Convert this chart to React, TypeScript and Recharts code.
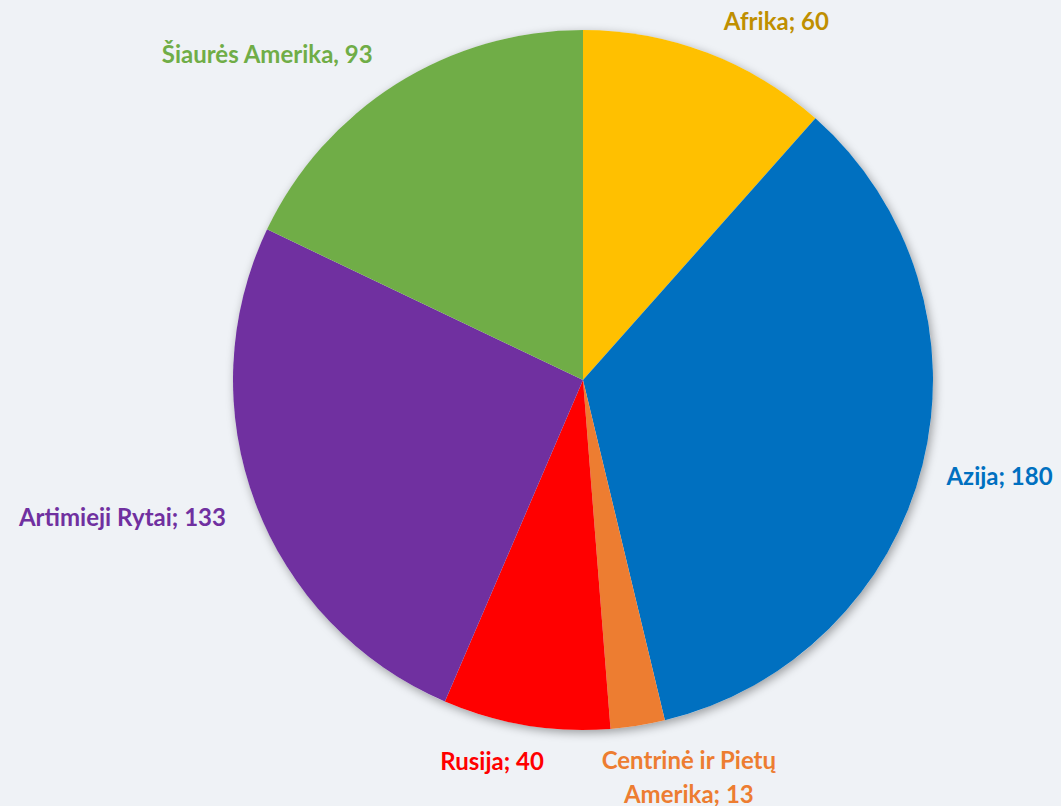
import React from 'react';
import { PieChart, Pie, Cell } from 'recharts';

const REGIONS = ['Afrika', 'Azija', 'Centrinė ir Pietų Amerika', 'Rusija', 'Artimieji Rytai', 'Šiaurės Amerika'];
const VALUES = [60, 180, 13, 40, 133, 93];
const SEPARATORS = [';', ';', ';', ';', ';', ','];
const SLICE_COLORS = ['#FFC000', '#0070C0', '#ED7D31', '#FF0000', '#7030A0', '#70AD47'];
const LABEL_COLORS = ['#BF8F00', '#0070C0', '#ED7D31', '#FF0000', '#7030A0', '#70AD47'];

// nudges from the slice's outer edge point to where the label sits
const LABEL_NUDGE: [number, number][] = [
  [69, -23],
  [77, 20],
  [51, 43],
  [-34, 45],
  [-133, 23],
  [-129, -21],
];

const data = REGIONS.map((name, i) => ({ name, value: VALUES[i] }));
const total = [{ name: 'all', value: VALUES.reduce((a, b) => a + b, 0) }];

const RADIAN = Math.PI / 180;

const renderLabel = ({ cx, cy, midAngle, outerRadius, index }: any) => {
  const x = cx + outerRadius * Math.cos(-midAngle * RADIAN) + LABEL_NUDGE[index][0];
  const y = cy + outerRadius * Math.sin(-midAngle * RADIAN) + LABEL_NUDGE[index][1];
  const text = `${REGIONS[index]}${SEPARATORS[index]} ${VALUES[index]}`;
  const style = { fontFamily: 'Lato, "Open Sans", sans-serif', fontWeight: 700, fontSize: 24 };
  if (index === 2) {
    // long label wraps onto two lines
    return (
      <text x={x} y={y} fill={LABEL_COLORS[index]} textAnchor="middle" style={style}>
        <tspan x={x}>Centrinė ir Pietų</tspan>
        <tspan x={x} dy={34}>{`Amerika${SEPARATORS[index]} ${VALUES[index]}`}</tspan>
      </text>
    );
  }
  return (
    <text x={x} y={y} fill={LABEL_COLORS[index]} textAnchor="middle" style={style}>
      {text}
    </text>
  );
};

export default function App() {
  return (
    <div style={{ position: 'absolute', left: 0, top: 0, width: 1061, height: 806, background: '#EFF2F6' }}>
      <PieChart width={1061} height={806} margin={{ top: 0, right: 0, bottom: 0, left: 0 }}>
        <Pie
          data={total}
          dataKey="value"
          cx={583}
          cy={380}
          outerRadius={350}
          startAngle={90}
          endAngle={-270}
          stroke="none"
          fill="#EFF2F6"
          isAnimationActive={false}
          style={{ filter: 'drop-shadow(2px 3px 5px rgba(0,0,0,0.35))' }}
        />
        <Pie
          data={data}
          dataKey="value"
          nameKey="name"
          cx={583}
          cy={380}
          outerRadius={350}
          startAngle={90}
          endAngle={-270}
          stroke="none"
          labelLine={false}
          label={renderLabel}
          isAnimationActive={false}
        >
          {data.map((entry, index) => (
            <Cell key={`cell-${index}`} fill={SLICE_COLORS[index]} />
          ))}
        </Pie>
      </PieChart>
    </div>
  );
}
